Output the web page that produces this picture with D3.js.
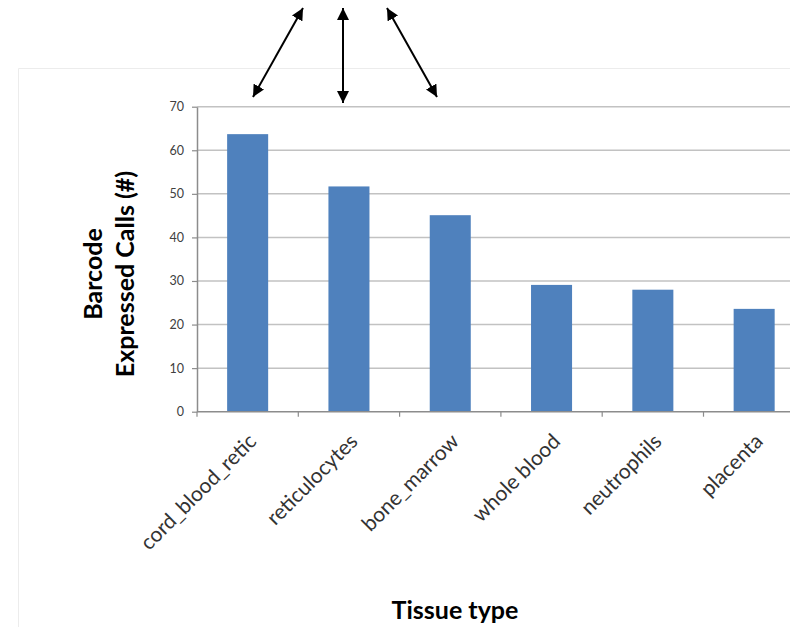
<!DOCTYPE html>
<html>
<head>
<meta charset="utf-8">
<script src="https://cdn.jsdelivr.net/npm/d3@7"></script>
<style>
  html, body { margin: 0; padding: 0; background: #fff; }
  svg { display: block; font-family: Lato, "Open Sans", sans-serif; }
</style>
</head>
<body>
<svg id="chart" width="790" height="627"></svg>
<script>
// Tissue types and barcode expressed-call counts
const categories = ["cord_blood_retic", "reticulocytes", "bone_marrow", "whole blood", "neutrophils", "placenta"];
const values = [63.7, 51.7, 45.1, 29.1, 28.0, 23.6];
const yTicks = [0, 10, 20, 30, 40, 50, 60, 70];
const yTitleLines = ["Barcode", "Expressed Calls (#)"];
const xTitle = "Tissue type";

const svg = d3.select("#chart");

const plot = { left: 197, top: 106.7, bottom: 411.7, step: 101.3 };
plot.right = plot.left + categories.length * plot.step;

const x = d3.scaleBand().domain(categories).range([plot.left, plot.right]).padding(0);
const y = d3.scaleLinear().domain([0, 70]).range([plot.bottom, plot.top]);

// outer chart frame (faint)
svg.append("path")
  .attr("d", "M18.5,627 V68.5 H790")
  .attr("fill", "none").attr("stroke", "#ececec").attr("stroke-width", 1);

// horizontal gridlines
svg.append("g").selectAll("line").data(yTicks.filter(d => d > 0)).join("line")
  .attr("x1", plot.left).attr("x2", plot.right)
  .attr("y1", d => y(d)).attr("y2", d => y(d))
  .attr("stroke", "#c2c2c2").attr("stroke-width", 1.5);

// bars
const barFrac = 0.405;
svg.append("g").selectAll("rect").data(categories).join("rect")
  .attr("x", (d) => x(d) + x.bandwidth() * (1 - barFrac) / 2)
  .attr("width", x.bandwidth() * barFrac)
  .attr("y", (d, i) => y(values[i]))
  .attr("height", (d, i) => y(0) - y(values[i]))
  .attr("fill", "#4f81bd");

// y axis
const yAxis = svg.append("g")
  .attr("transform", `translate(${plot.left},0)`)
  .call(d3.axisLeft(y).tickValues(yTicks).tickSize(5).tickPadding(8).tickSizeOuter(0));
yAxis.select(".domain").attr("stroke", "#8c8c8c").attr("stroke-width", 1.5);
yAxis.selectAll(".tick line").attr("stroke", "#8c8c8c").attr("stroke-width", 1.2);
yAxis.selectAll(".tick text").attr("fill", "#404040").attr("font-size", 12.5)
  .attr("font-family", "Lato, sans-serif");

// x axis line and category boundary ticks
svg.append("line")
  .attr("x1", plot.left).attr("x2", plot.right)
  .attr("y1", y(0)).attr("y2", y(0))
  .attr("stroke", "#8c8c8c").attr("stroke-width", 1.5);
const bounds = categories.map(c => x(c)).concat([plot.right]);
svg.append("g").selectAll("line").data(bounds).join("line")
  .attr("x1", d => d).attr("x2", d => d)
  .attr("y1", y(0)).attr("y2", y(0) + 5)
  .attr("stroke", "#8c8c8c").attr("stroke-width", 1.2);

// rotated category labels
svg.append("g").selectAll("text").data(categories).join("text")
  .attr("transform", d => `translate(${x(d) + x.bandwidth() / 2 + 10},${y(0) + 31}) rotate(-45)`)
  .attr("text-anchor", "end")
  .attr("fill", "#333")
  .attr("font-size", 21)
  .text(d => d);

// y axis title (two lines, rotated)
const yt = svg.append("text")
  .attr("transform", "translate(0,274) rotate(-90)")
  .attr("text-anchor", "middle")
  .attr("font-weight", "bold").attr("font-size", 25).attr("fill", "#000");
yt.selectAll("tspan").data(yTitleLines).join("tspan")
  .attr("x", 0).attr("y", (d, i) => 102 + i * 32)
  .text(d => d);

// x axis title
svg.append("text")
  .attr("x", 455).attr("y", 619)
  .attr("text-anchor", "middle")
  .attr("font-weight", "bold").attr("font-size", 25).attr("fill", "#000")
  .text(xTitle);

// double-headed arrows above the top three bars
const defs = svg.append("defs");
defs.append("marker")
  .attr("id", "head").attr("viewBox", "0 0 10 10")
  .attr("refX", 10).attr("refY", 5)
  .attr("markerWidth", 6).attr("markerHeight", 6)
  .attr("markerUnits", "strokeWidth")
  .attr("orient", "auto-start-reverse")
  .append("path").attr("d", "M0,0 L10,5 L0,10 Z").attr("fill", "#000");

const arrows = [
  [253, 97, 303, 8],
  [343, 103, 343, 8],
  [437, 97, 387, 8]
];
svg.append("g").selectAll("line").data(arrows).join("line")
  .attr("x1", d => d[0]).attr("y1", d => d[1])
  .attr("x2", d => d[2]).attr("y2", d => d[3])
  .attr("stroke", "#000").attr("stroke-width", 2)
  .attr("marker-start", "url(#head)")
  .attr("marker-end", "url(#head)");
</script>
</body>
</html>
